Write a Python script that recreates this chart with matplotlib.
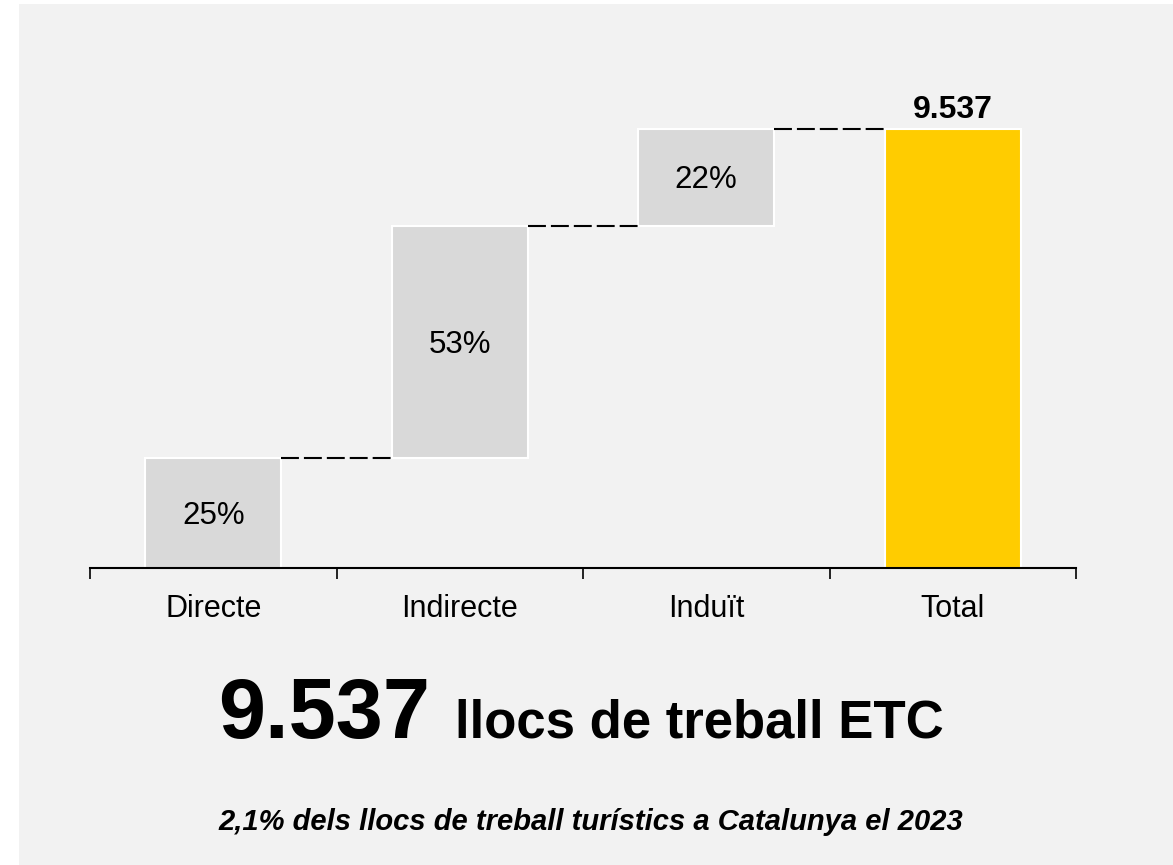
import matplotlib.pyplot as plt
from matplotlib.patches import Rectangle
import numpy as np

plt.rcParams['font.family'] = ['Liberation Sans', 'DejaVu Sans']

# Dades
categories = ["Directe", "Indirecte", "Induït", "Total"]
total = 9537
shares = [25, 53, 22]
share_labels = ["25%", "53%", "22%"]
total_label = "9.537"
title_num = "9.537"
title_txt = "llocs de treball ETC"
subtitle = "2,1% dels llocs de treball turístics a Catalunya el 2023"

W, H = 1173, 865
fig = plt.figure(figsize=(W / 100, H / 100), dpi=100, facecolor="white")
# panell gris de fons
fig.patches.append(Rectangle((19 / W, 0), (W - 19) / W, (H - 4) / H,
                             transform=fig.transFigure, facecolor="#f2f2f2",
                             edgecolor="none", zorder=-10))

ymax = 10800
ax_left, ax_right = 90 / W, 1076 / W
ax_bottom = (H - 568) / H
ax_h = (439 * ymax / total) / H
ax = fig.add_axes([ax_left, ax_bottom, ax_right - ax_left, ax_h])
ax.set_facecolor("none")

vals = [total * s / 100 for s in shares]
bottoms = np.concatenate([[0], np.cumsum(vals)[:-1]])
x = np.arange(len(categories))
width = 0.55

ax.bar(x[:3], vals, bottom=bottoms, width=width, color="#d9d9d9",
       edgecolor="white", linewidth=1.5)
ax.bar(x[3], total, width=width, color="#ffcc00", edgecolor="white", linewidth=1.5)

# connectors
tops = np.cumsum(vals)
for i, t in enumerate(tops):
    ax.plot([x[i] + width / 2, x[i + 1] - width / 2], [t, t], color="black",
            linewidth=1.5, dashes=(8.6, 2.4))

for i in range(3):
    ax.text(x[i], bottoms[i] + vals[i] / 2 - 60, share_labels[i], ha="center",
            va="center", fontsize=22.5)
ax.text(x[3], total + 230, total_label, ha="center", va="baseline",
        fontsize=23, fontweight="bold")

ax.set_xlim(-0.5, 3.5)
ax.set_ylim(0, ymax)
ax.set_xticks(np.arange(-0.5, 4, 1))
ax.set_xticklabels([])
ax.set_xticks(x, minor=True)
ax.set_xticklabels(categories, minor=True, fontsize=22)
ax.tick_params(axis="x", which="major", length=8, width=1.2, direction="out")
ax.tick_params(axis="x", which="minor", length=0, pad=19)
ax.set_yticks([])
for s in ["top", "right", "left"]:
    ax.spines[s].set_visible(False)
ax.spines["bottom"].set_linewidth(1.5)

fig.text(218 / W, 1 - 738 / H, title_num, fontsize=61, fontweight="bold",
         ha="left", va="baseline")
fig.text(455 / W, 1 - 738 / H, title_txt, fontsize=38, fontweight="bold",
         ha="left", va="baseline")
fig.text(591 / W, 1 - 830 / H, subtitle, fontsize=21, fontweight="bold",
         style="italic", ha="center", va="baseline")

fig.savefig("out.png", dpi=100, facecolor=fig.get_facecolor())
